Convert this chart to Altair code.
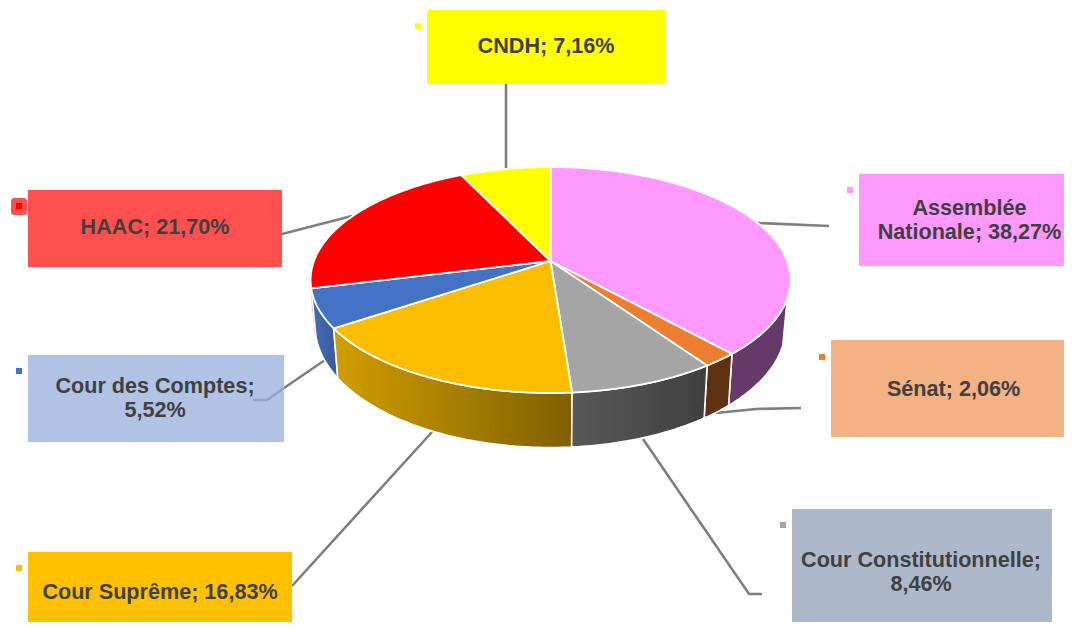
import math
import altair as alt
import pandas as pd

# ---- data
categories = ["Assemblée Nationale", "Sénat", "Cour Constitutionnelle", "Cour Suprême",
              "Cour des Comptes", "HAAC", "CNDH"]
shares = [38.27, 2.06, 8.46, 16.83, 5.52, 21.70, 7.16]
labels = ["Assemblée\nNationale; 38,27%", "Sénat; 2,06%", "Cour Constitutionnelle;\n8,46%",
          "Cour Suprême; 16,83%", "Cour des Comptes;\n5,52%", "HAAC; 21,70%", "CNDH; 7,16%"]

# ---- styles and layout
top_colors = ["#FF99FF", "#ED7D31", "#A5A5A5", "#FBBD00", "#4472C4", "#FF0000", "#FFFF00"]
box_colors = ["#FF99FF", "#F4B183", "#ADB9CA", "#FFC000", "#B0C3E4", "#FF5050", "#FFFF00"]
boxes = [(859, 1064, 174, 266), (831, 1064, 340, 437), (792, 1052, 509, 622), (28, 292, 552, 622),
         (28, 284, 355, 442), (28, 282, 190, 267), (427, 665, 10, 84)]
label_pos = [(969.5, 209), (953.5, 390), (921, 561), (160, 593), (155, 387), (155, 228), (546, 47)]
key_pos = [(850, 190), (822, 357), (783, 525), (19, 568), (19, 371), (19, 206), (418, 26)]
leaders = [
    [(758, 223), (829, 226)],
    [(716, 413), (756, 409), (801, 408)],
    [(643, 439), (749, 594), (762, 594)],
    [(432, 432), (292, 586)],
    [(325, 360), (284, 388)],
    [(352, 216), (282, 234)],
    [(506, 84), (506, 172)],
]
inner_leader = [(284, 388), (267, 400), (253, 400)]

W, H = 1056, 614
x_scale = alt.Scale(domain=[8, 1064], range=[0, W], nice=False, zero=False)
y_scale = alt.Scale(domain=[622, 8], range=[H, 0], nice=False, zero=False)
X = lambda f="x": alt.X(f"{f}:Q", scale=x_scale, axis=None)
Y = lambda f="y": alt.Y(f"{f}:Q", scale=y_scale, axis=None)


def grad(a, b):
    return alt.LinearGradient(gradient="linear", x1=0, x2=1, y1=0, y2=0,
                              stops=[alt.GradientStop(color=a, offset=0),
                                     alt.GradientStop(color=b, offset=1)])


# perspective disc: clockwise angle from 12 o'clock -> picture position
def top_pt(t):
    u, v = math.sin(t), math.cos(t)
    d = 1 + 0.168 * v
    return 550.5 + 236.5 * u / d, 261 - 109.8 * v / d


def bot_pt(t):
    u, v = math.sin(t), math.cos(t)
    d = 1 + 0.168 * v
    return 550.5 + 232 * u / d, 305.7 - 118 * v / d


def polygon(points, fill, stroke="white", sw=1.6):
    df = pd.DataFrame([{"x": p[0], "y": p[1], "i": i} for i, p in enumerate(points)])
    return alt.Chart(df).mark_line(interpolate="linear-closed", fill=fill, stroke=stroke,
                                   strokeWidth=sw, strokeJoin="round").encode(
        x=X(), y=Y(), order=alt.Order("i:Q"))


def arc(a, b):
    n = max(2, int(abs(b - a) * 60))
    return [a + (b - a) * k / n for k in range(n + 1)]


def polyline(points, color="#7F7F7F", sw=2.6):
    df = pd.DataFrame([{"x": p[0], "y": p[1], "i": i} for i, p in enumerate(points)])
    return alt.Chart(df).mark_line(color=color, strokeWidth=sw).encode(
        x=X(), y=Y(), order=alt.Order("i:Q"))


edges = [0.0]
for s in shares:
    edges.append(edges[-1] + s)
total = edges[-1]
ang = [e / total * 2 * math.pi for e in edges]

layers = [polyline(p) for p in leaders]

# walls, painted from the sides towards the front
walls = [
    (5, ang[5], ang[5] + 0.1, "#FF3030", "#FF3030"),
    (0, math.radians(108.7), ang[1], "#663A68", "white"),
    (4, ang[4], ang[5], grad("#426DBA", "#3A5A9A"), "white"),
    (1, ang[1], ang[2], "#5F3212", "white"),
    (3, ang[3], ang[4], grad("#D19E00", "#7F6000"), "white"),
    (2, ang[2], ang[3], grad("#585858", "#404040"), "white"),
]
for idx, a, b, fill, stroke in walls:
    pts = [top_pt(t) for t in arc(a, b)] + [bot_pt(t) for t in arc(b, a)]
    layers.append(polygon(pts, fill, stroke, 1.6))

# top faces
for i, c in enumerate(top_colors):
    pts = [top_pt(t) for t in arc(ang[i], ang[i + 1])] + [(550.5, 261)]
    layers.append(polygon(pts, c, "white", 1.8))

# label boxes
box_df = pd.DataFrame([{"x": b[0], "x2": b[1], "y": b[2], "y2": b[3], "c": c}
                       for b, c in zip(boxes, box_colors)])
layers.append(alt.Chart(box_df).mark_rect().encode(
    x=X(), x2="x2:Q", y=Y(), y2="y2:Q", color=alt.Color("c:N", scale=None, legend=None)))

layers.append(polyline(inner_leader, "#8FA3C6"))

# highlighted key behind the HAAC swatch
halo = pd.DataFrame([{"x": 11, "x2": 27, "y": 198, "y2": 215}])
layers.append(alt.Chart(halo).mark_rect(color="#FF5050", cornerRadius=3).encode(
    x=X(), x2="x2:Q", y=Y(), y2="y2:Q"))

key_df = pd.DataFrame([{"x": p[0] - 3, "x2": p[0] + 3, "y": p[1] - 3, "y2": p[1] + 3, "c": c}
                       for p, c in zip(key_pos, top_colors)])
layers.append(alt.Chart(key_df).mark_rect().encode(
    x=X(), x2="x2:Q", y=Y(), y2="y2:Q", color=alt.Color("c:N", scale=None, legend=None)))

text_df = pd.DataFrame([{"x": p[0], "y": p[1], "t": t, "cat": n}
                        for p, t, n in zip(label_pos, labels, categories)])
layers.append(alt.Chart(text_df).mark_text(
    font="Liberation Sans", fontWeight="bold", fontSize=21.6, color="#404040",
    align="center", baseline="middle", lineBreak="\n", lineHeight=24).encode(
    x=X(), y=Y(), text="t:N"))

chart = alt.layer(*layers).resolve_scale(color="independent").properties(
    width=W, height=H, padding=0, autosize=alt.AutoSizeParams(type="none"),
    background="white"
).configure_view(stroke=None)

chart.save("out.html", embed_options={"renderer": "svg", "actions": False})
